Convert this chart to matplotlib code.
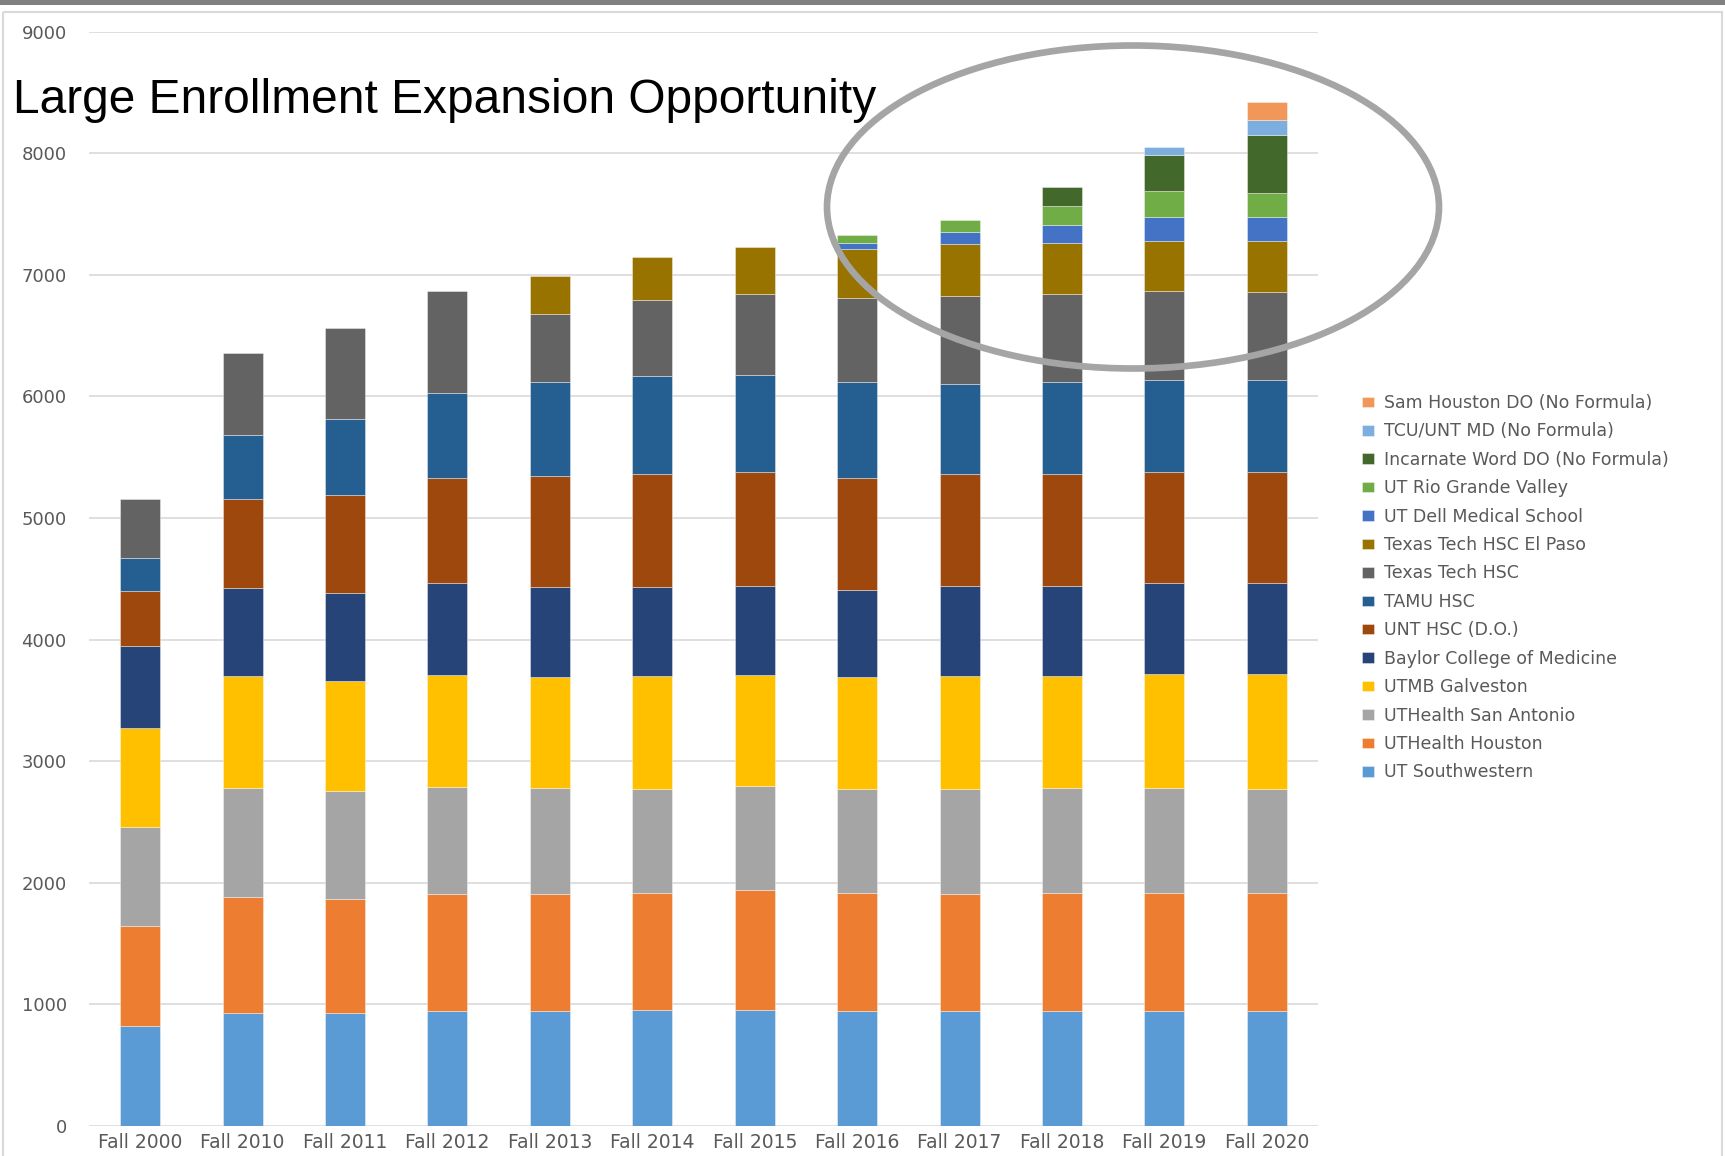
import matplotlib
matplotlib.use("Agg")
import matplotlib.pyplot as plt
from matplotlib.patches import Ellipse, Rectangle
import numpy as np

categories = ["Fall 2000", "Fall 2010", "Fall 2011", "Fall 2012", "Fall 2013", "Fall 2014",
              "Fall 2015", "Fall 2016", "Fall 2017", "Fall 2018", "Fall 2019", "Fall 2020"]

ut_southwestern = [821, 931, 931, 943, 942, 956, 956, 942, 942, 942, 942, 942]
uthealth_houston = [826, 949, 937, 963, 962, 959, 986, 973, 962, 973, 973, 973]
uthealth_san_antonio = [809, 898, 886, 883, 879, 857, 852, 857, 868, 868, 868, 857]
utmb_galveston = [816, 920, 906, 924, 907, 930, 919, 918, 933, 922, 932, 943]
baylor = [673, 725, 727, 752, 744, 732, 732, 719, 739, 739, 747, 747]
unt_hsc = [453, 733, 802, 862, 915, 926, 931, 918, 916, 916, 914, 914]
tamu_hsc = [272, 526, 629, 698, 766, 805, 800, 788, 742, 755, 761, 761]
texas_tech = [486, 678, 749, 840, 566, 629, 667, 693, 728, 728, 728, 720]
texas_tech_ep = [0, 0, 0, 0, 308, 357, 385, 404, 420, 418, 410, 418]
ut_dell = [0, 0, 0, 0, 0, 0, 0, 49, 99, 148, 198, 198]
ut_rgv = [0, 0, 0, 0, 0, 0, 0, 63, 99, 154, 214, 197]
incarnate_word = [0, 0, 0, 0, 0, 0, 0, 0, 0, 157, 302, 478]
tcu_unt = [0, 0, 0, 0, 0, 0, 0, 0, 0, 0, 63, 124]
sam_houston = [0, 0, 0, 0, 0, 0, 0, 0, 0, 0, 0, 146]

series_names = ["UT Southwestern", "UTHealth Houston", "UTHealth San Antonio", "UTMB Galveston",
                "Baylor College of Medicine", "UNT HSC (D.O.)", "TAMU HSC", "Texas Tech HSC",
                "Texas Tech HSC El Paso", "UT Dell Medical School", "UT Rio Grande Valley",
                "Incarnate Word DO (No Formula)", "TCU/UNT MD (No Formula)",
                "Sam Houston DO (No Formula)"]
series_values = [ut_southwestern, uthealth_houston, uthealth_san_antonio, utmb_galveston,
                 baylor, unt_hsc, tamu_hsc, texas_tech, texas_tech_ep, ut_dell, ut_rgv,
                 incarnate_word, tcu_unt, sam_houston]
series_colors = ["#5B9BD5", "#ED7D31", "#A5A5A5", "#FFC000", "#264478", "#9E480E",
                 "#255E91", "#636363", "#997300", "#4472C4", "#70AD47", "#43682B",
                 "#7CAFDD", "#F1975A"]

yticks = [0, 1000, 2000, 3000, 4000, 5000, 6000, 7000, 8000, 9000]
title_text = "Large Enrollment Expansion Opportunity"

W, H = 1725, 1156
fig = plt.figure(figsize=(W / 100, H / 100), dpi=100)
fig.patch.set_facecolor("white")

ax = fig.add_axes([89 / W, (H - 1126) / H, 1229 / W, (1126 - 31.7) / H])
x = np.arange(len(categories))
bottoms = np.zeros(len(categories))
handles = []
for name, vals, col in zip(series_names, series_values, series_colors):
    v = np.array(vals, dtype=float)
    m = v > 0
    b = ax.bar(x[m], v[m], bottom=bottoms[m], width=0.39, color=col,
               edgecolor=(1, 1, 1, 0.45), linewidth=0.6, label=name, zorder=3)
    handles.append(b)
    bottoms += v

ax.set_xlim(-0.5, len(categories) - 0.5)
ax.set_ylim(0, 9000)
ax.set_yticks(yticks)
ax.set_yticklabels([str(t) for t in yticks])
ax.set_xticks(x)
ax.set_xticklabels(categories)
ax.yaxis.grid(True, color="#D9D9D9", linewidth=1.2, zorder=0)
ax.set_axisbelow(True)
for s in ax.spines.values():
    s.set_visible(False)
ax.tick_params(axis="both", length=0, colors="#595959")
ax.tick_params(axis="y", pad=16, labelsize=13)
ax.tick_params(axis="x", pad=5, labelsize=13.5)
for lab in ax.get_xticklabels() + ax.get_yticklabels():
    lab.set_fontfamily("DejaVu Sans")
    lab.set_color("#595959")

leg = fig.legend(handles[::-1], series_names[::-1], loc="upper left",
                 bbox_to_anchor=(1362 / W, 1 - 394 / H), frameon=False,
                 fontsize=12.5, labelcolor="#595959", handlelength=0.7,
                 handleheight=0.55, handletextpad=0.55, labelspacing=0.60,
                 borderpad=0, borderaxespad=0)

fig.text(13 / W, 1 - 113 / H, title_text, fontsize=34.5, family="Liberation Sans",
         color="black", va="baseline", ha="left")

oax = fig.add_axes([0, 0, 1, 1], zorder=10)
oax.set_xlim(0, W)
oax.set_ylim(H, 0)
oax.axis("off")
oax.patch.set_alpha(0)
oax.add_patch(Ellipse((1133, 207), 612, 323, fill=False, edgecolor="#A5A5A5", linewidth=4.8))
oax.add_patch(Rectangle((0, 0), W, 5, color="#808080", linewidth=0))
oax.add_patch(Rectangle((3, 12), W - 6, H, fill=False, edgecolor="#D9D9D9", linewidth=1.5))

fig.savefig("out.png", dpi=100)
